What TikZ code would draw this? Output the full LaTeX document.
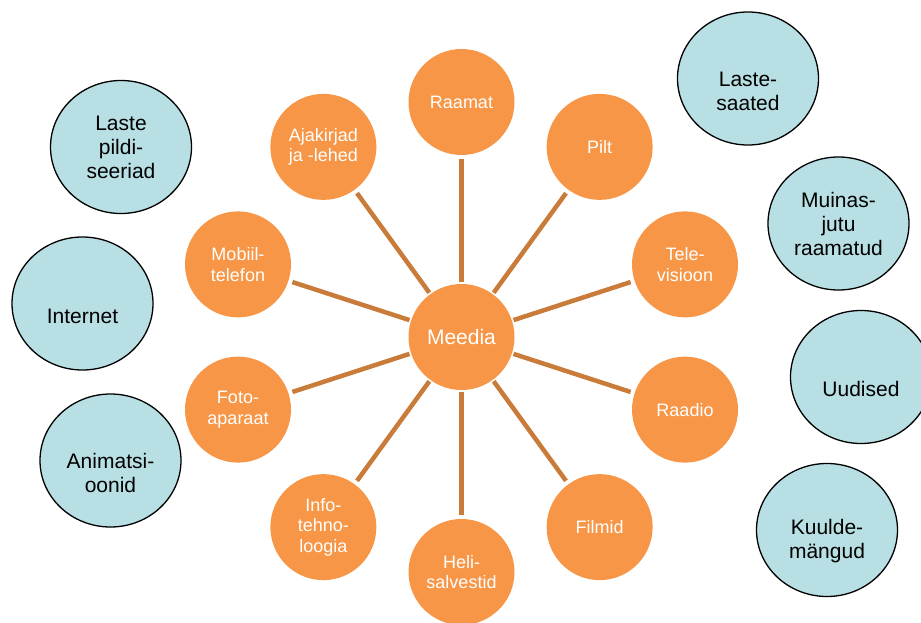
\documentclass[tikz,border=0pt]{standalone}
\usepackage{fontspec}
\setmainfont{Liberation Sans}
\usetikzlibrary{shapes.geometric,calc}
\definecolor{hubfill}{HTML}{F79646}
\definecolor{spoke}{HTML}{C97B3A}
\definecolor{cloud}{HTML}{B8DFE3}
\begin{document}
\begin{tikzpicture}[x=1pt,y=-1pt,
  medium/.style={circle,fill=hubfill,draw=none,minimum size=106pt,inner sep=0pt,
    text=white,align=center,font=\fontsize{18}{20.5}\selectfont},
  hub/.style={medium,font=\fontsize{21}{24}\selectfont},
  link/.style={draw=spoke,line width=4.5pt,shorten <=1.5pt,shorten >=4pt},
  genre/.style={ellipse,fill=cloud,draw=black,line width=1.3pt,
    minimum width=141pt,minimum height=133pt,inner sep=0pt},
  genretext/.style={align=center,text=black,inner sep=0pt,
    font=\fontsize{21}{24}\selectfont}]
\useasboundingbox (0,0) rectangle (921,623);

% hub and the ten media around it
\node[hub] (m) at (461.5,337) {Meedia};
\node[medium] (raamat) at ([shift={(90:235pt)}]m.center) {Raamat};
\node[medium] (pilt)   at ([shift={(54:235pt)}]m.center) {Pilt};
\node[medium] (tv)     at ([shift={(18:235pt)}]m.center) {Tele-\\visioon};
\node[medium] (raadio) at ([shift={(-18:235pt)}]m.center) {Raadio};
\node[medium] (film)   at ([shift={(-54:235pt)}]m.center) {Filmid};
\node[medium] (heli)   at ([shift={(-90:235pt)}]m.center) {Heli-\\salvestid};
\node[medium] (info)   at ([shift={(-126:235pt)}]m.center) {Info-\\tehno-\\loogia};
\node[medium] (foto)   at ([shift={(-162:235pt)}]m.center) {Foto-\\aparaat};
\node[medium] (mobiil) at ([shift={(162:235pt)}]m.center) {Mobiil-\\telefon};
\node[medium] (ajak)   at ([shift={(126:235pt)}]m.center) {Ajakirjad\\ja -lehed};

\foreach \t in {raamat,pilt,tv,raadio,film,heli,info,foto,mobiil,ajak}
  \draw[link] (m) -- (\t);

% genres
\node[genre] (lps) at (121,147) {};
\node[genretext] at (121,147) {Laste\\pildi-\\seeriad};
\node[genre] (net) at (82.5,303.5) {};
\node[genretext] at (82.5,316) {Internet};
\node[genre] (anim) at (110.5,460.5) {};
\node[genretext] at (110.5,473) {Animatsi-\\oonid};
\node[genre] (ls) at (748,78.5) {};
\node[genretext] at (748,91) {Laste-\\saated};
\node[genre] (mjr) at (838.5,223.5) {};
\node[genretext] at (838.5,224) {Muinas-\\jutu\\raamatud};
\node[genre] (uud) at (861,377) {};
\node[genretext] at (861,389) {Uudised};
\node[genre] (km) at (827,530) {};
\node[genretext] at (827,541) {Kuulde-\\mängud};
\end{tikzpicture}
\end{document}
